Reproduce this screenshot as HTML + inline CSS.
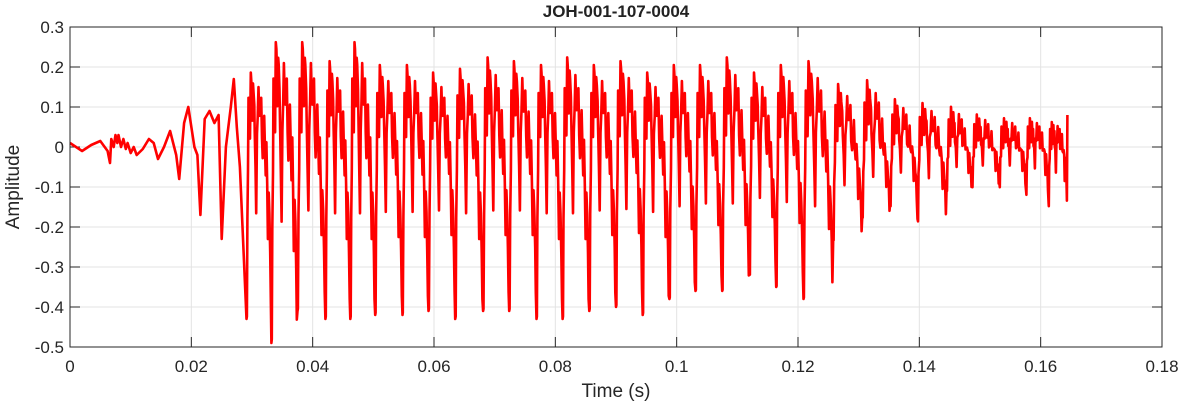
<!DOCTYPE html>
<html><head><meta charset="utf-8"><style>
html,body{margin:0;padding:0;background:#fff;}
svg{display:block;font-family:"Liberation Sans",Arial,sans-serif;}
</style></head><body>
<svg id="chart" width="1182" height="404">
<text x="616" y="17" text-anchor="middle" font-size="17" font-weight="bold" fill="#222">JOH-001-107-0004</text>
<text x="616" y="397" text-anchor="middle" font-size="19" fill="#262626">Time (s)</text>
<text transform="translate(19,187) rotate(-90)" text-anchor="middle" font-size="19" fill="#262626">Amplitude</text>
<g id="grid"></g><g id="ticks"></g><g id="series"></g>
<rect x="70" y="27" width="1092" height="320" fill="none" stroke="#262626" stroke-width="1"/>
</svg>
<script>
const xTicks=[0,0.02,0.04,0.06,0.08,0.1,0.12,0.14,0.16,0.18];
const yTicks=[0.3,0.2,0.1,0,-0.1,-0.2,-0.3,-0.4,-0.5];
const onsetTimes=[0,0.002,0.0035,0.005,0.0062,0.0066,0.0068,0.0072,0.0075,0.0078,0.008,0.0084,0.0088,0.0092,0.0095,0.0100,0.0105,0.011,0.012,0.013,0.0138,0.0145,0.0155,0.0165,0.0175,0.018,0.0188,0.0195,0.0205,0.021,0.0215,0.0222,0.023,0.0238,0.0245,0.025,0.0257,0.0265,0.027,0.0275,0.028];
const onsetVals=[0.01,-0.01,0.005,0.015,-0.01,-0.04,0.02,0.0,0.03,0.01,0.03,0.0,0.02,-0.005,0.01,-0.015,0.0,-0.02,-0.005,0.02,0.01,-0.03,0.0,0.04,-0.02,-0.08,0.06,0.1,0.0,-0.02,-0.17,0.07,0.09,0.06,0.08,-0.23,0.0,0.1,0.17,0.05,-0.05];
const cycleTimes=[0.0291,0.0332,0.0375,0.0421,0.0462,0.0503,0.0548,0.0591,0.0635,0.0681,0.0724,0.0769,0.0812,0.0856,0.0900,0.0944,0.0988,0.1031,0.1075,0.1120,0.1164,0.1209,0.1258,0.1306,0.1352,0.1397,0.1445,0.1487,0.1532,0.1576,0.1613];
const troughVals=[-0.43,-0.49,-0.41,-0.43,-0.43,-0.42,-0.42,-0.41,-0.43,-0.41,-0.41,-0.43,-0.43,-0.41,-0.40,-0.42,-0.38,-0.36,-0.36,-0.32,-0.35,-0.38,-0.23,-0.17,-0.14,-0.18,-0.10,-0.09,-0.09,-0.11,-0.14];
const peakVals=[0.18,0.26,0.26,0.21,0.26,0.20,0.20,0.18,0.19,0.22,0.21,0.20,0.22,0.20,0.21,0.18,0.20,0.20,0.22,0.18,0.20,0.21,0.15,0.16,0.11,0.10,0.09,0.07,0.06,0.06,0.05];
const endTime=0.1644, endVal=0.08;

const L=70,R=1162,T=27,B=347;
const xs=t=>L+(t-0)/(0.18-0)*(R-L);
const ys=v=>B-(v+0.5)/(0.8)*(B-T);
const NS="http://www.w3.org/2000/svg";
const grid=document.getElementById('grid'),ticks=document.getElementById('ticks'),series=document.getElementById('series');
function mk(tag,attrs,parent){const e=document.createElementNS(NS,tag);for(const k in attrs)e.setAttribute(k,attrs[k]);parent.appendChild(e);return e;}
xTicks.forEach(t=>{
  const x=xs(t);
  const g=mk('line',{x1:x,x2:x,y1:T,y2:B,stroke:'#e3e3e3','stroke-width':1},grid);
  
  
  mk('line',{x1:x,x2:x,y1:B,y2:B-10,stroke:'#262626'},ticks);
  mk('line',{x1:x,x2:x,y1:T,y2:T+10,stroke:'#262626'},ticks);
  const lb=mk('text',{x:x,y:372,'text-anchor':'middle','font-size':17,fill:'#262626'},ticks);
  lb.textContent=String(t);
  
  
});
yTicks.forEach(v=>{
  const y=ys(v);
  const g=mk('line',{x1:L,x2:R,y1:y,y2:y,stroke:'#e3e3e3','stroke-width':1},grid);
  
  
  mk('line',{x1:L,x2:L+10,y1:y,y2:y,stroke:'#262626'},ticks);
  mk('line',{x1:R,x2:R-10,y1:y,y2:y,stroke:'#262626'},ticks);
  const lb=mk('text',{x:L-6,y:y+6,'text-anchor':'end','font-size':17,fill:'#262626'},ticks);
  lb.textContent=String(v);
  
  
});
const pts=[];
onsetTimes.forEach((t,i)=>pts.push([t,onsetVals[i]]));
const shape=[[0.015,'T',0.95],[0.035,'T',0.45],[0.06,'T',0.1],[0.08,'P',0.6],[0.1,'P',0.3],[0.12,'P',0.5],[0.14,'P',0.2],[0.17,'P',0.95],[0.19,'P',1.0],[0.21,'P',0.7],[0.23,'P',0.45],[0.26,'P',0.8],[0.28,'P',0.85],[0.31,'P',0.5],[0.33,'P',0.3],[0.36,'T',0.15],[0.39,'T',0.35],[0.42,'P',0.1],[0.45,'P',0.5],[0.48,'P',0.75],[0.51,'P',0.55],[0.53,'P',0.35],[0.56,'P',0.55],[0.59,'P',0.6],[0.62,'P',0.2],[0.65,'T',0.1],[0.68,'P',0.25],[0.71,'P',0.35],[0.74,'P',0.1],[0.77,'T',0.2],[0.8,'P',0.15],[0.83,'T',0.25],[0.86,'T',0.5],[0.89,'T',0.3],[0.92,'T',0.35],[0.95,'T',0.65],[0.975,'T',0.85]];
cycleTimes.forEach((t0,i)=>{
  const t1=i+1<cycleTimes.length?cycleTimes[i+1]:endTime;
  const tv=troughVals[i],pv=peakVals[i];
  pts.push([t0,tv]);
  shape.forEach(([f,k,a],j)=>{
    const v=k==='P'?pv*a:tv*a;
    pts.push([t0+(t1-t0)*f,v+(j%2?0.015:-0.015)]);
  });
});
pts.push([endTime,endVal]);
const d=pts.map((p,i)=>(i?'L':'M')+xs(p[0]).toFixed(1)+' '+ys(p[1]).toFixed(1)).join(' ');
const path=mk('path',{d:d,fill:'none',stroke:'#ff0000','stroke-width':2.6,'stroke-linejoin':'round'},series);


</script>
</body></html>
